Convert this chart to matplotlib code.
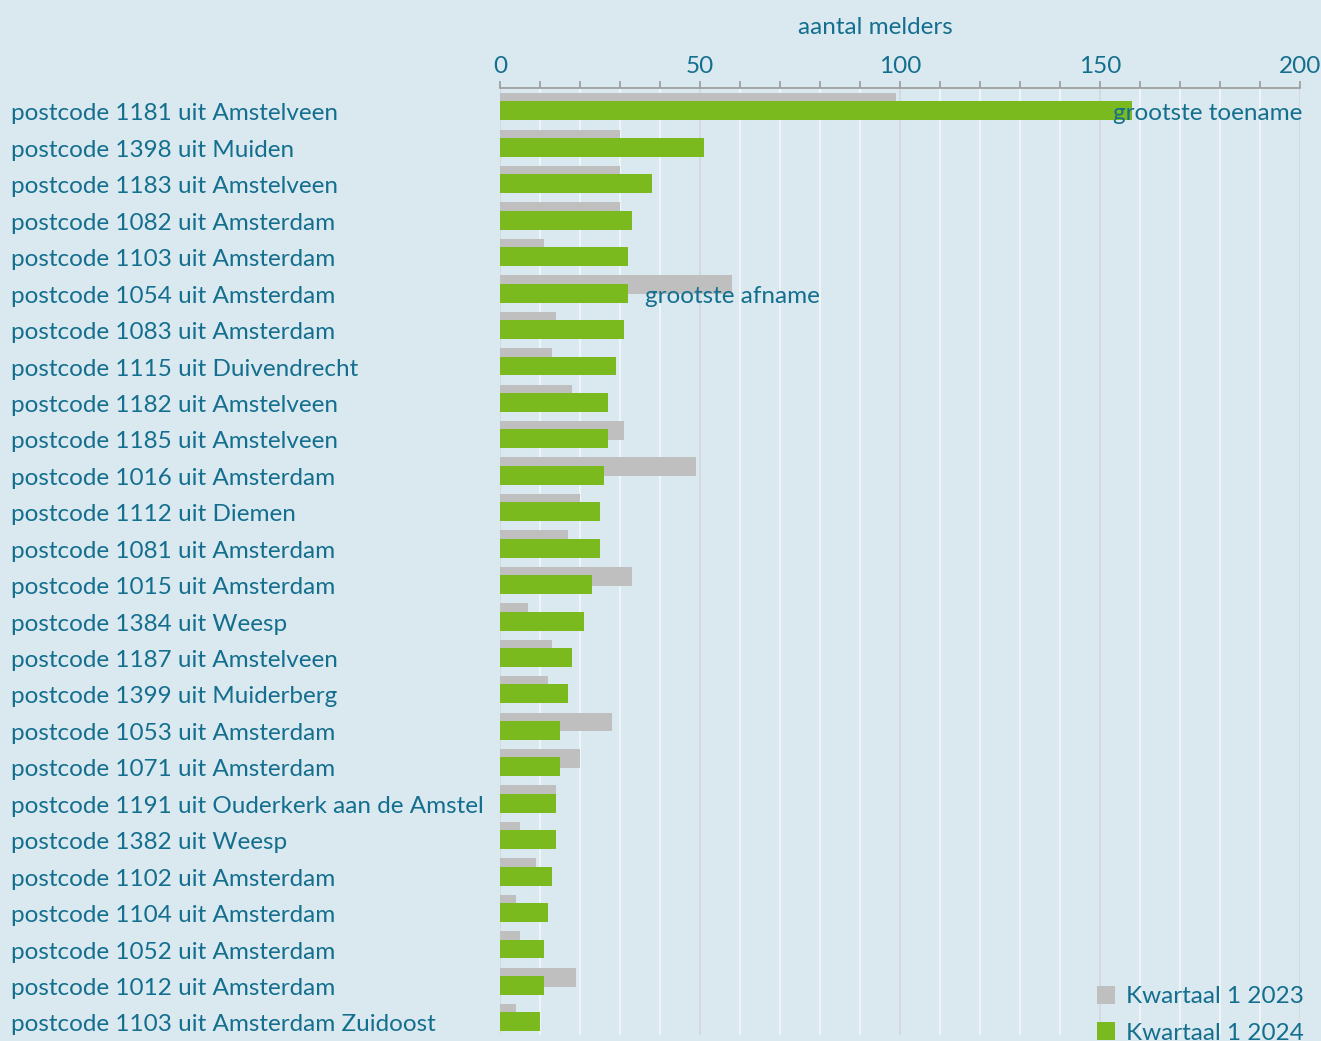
import numpy as np
import matplotlib.pyplot as plt
import matplotlib.transforms as mtransforms
from matplotlib.patches import Patch

labels = ['postcode 1181 uit Amstelveen', 'postcode 1398 uit Muiden', 'postcode 1183 uit Amstelveen',
          'postcode 1082 uit Amsterdam', 'postcode 1103 uit Amsterdam', 'postcode 1054 uit Amsterdam',
          'postcode 1083 uit Amsterdam', 'postcode 1115 uit Duivendrecht', 'postcode 1182 uit Amstelveen',
          'postcode 1185 uit Amstelveen', 'postcode 1016 uit Amsterdam', 'postcode 1112 uit Diemen',
          'postcode 1081 uit Amsterdam', 'postcode 1015 uit Amsterdam', 'postcode 1384 uit Weesp',
          'postcode 1187 uit Amstelveen', 'postcode 1399 uit Muiderberg', 'postcode 1053 uit Amsterdam',
          'postcode 1071 uit Amsterdam', 'postcode 1191 uit Ouderkerk aan de Amstel', 'postcode 1382 uit Weesp',
          'postcode 1102 uit Amsterdam', 'postcode 1104 uit Amsterdam', 'postcode 1052 uit Amsterdam',
          'postcode 1012 uit Amsterdam', 'postcode 1103 uit Amsterdam Zuidoost']
q1_2023 = [99, 30, 30, 30, 11, 58, 14, 13, 18, 31, 49, 20, 17, 33, 7, 13, 12, 28, 20, 14, 5, 9, 4, 5, 19, 4]
q1_2024 = [158, 51, 38, 33, 32, 32, 31, 29, 27, 27, 26, 25, 25, 23, 21, 18, 17, 15, 15, 14, 14, 13, 12, 11, 11, 10]

bg = '#dae8f0'
txt = '#146f8e'
green = '#7aba1e'
grey = '#bfbfbf'
fs = 17.5
plt.rcParams['font.family'] = ['Lato', 'DejaVu Sans']

fig = plt.figure(figsize=(13.21, 10.41), dpi=100, facecolor=bg)
ax = fig.add_axes([500 / 1321, 1 - 1035 / 1041, 800 / 1321, (1035 - 88) / 1041])
ax.set_facecolor(bg)

y = np.arange(len(labels))
h = 0.52
ax.barh(y - 0.23, q1_2023, height=h, color=grey, zorder=2)
ax.barh(y, q1_2024, height=h, color=green, zorder=3)

ax.set_xlim(0, 200)
ax.set_ylim(len(labels) - 1 + 0.36, -0.63)

# gridlines
for v in range(0, 201, 10):
    c = '#d3d8db' if v % 50 == 0 else '#f2f6f8'
    ax.axvline(v, color=c, lw=1.3, zorder=1)

ax.xaxis.tick_top()
ax.set_xticks([0, 50, 100, 150, 200])
ax.set_xticks(range(0, 201, 10), minor=True)
ax.tick_params(axis='x', which='both', direction='out', length=5, color='#9a9a9a', width=1.2,
               labelsize=fs, labelcolor=txt, pad=3)
ax.set_yticks([])
for s in ['right', 'left', 'bottom']:
    ax.spines[s].set_visible(False)
ax.spines['top'].set_color('#9a9a9a')
ax.spines['top'].set_linewidth(1.2)

# labels sit a few pixels lower than the bar centre
tr = mtransforms.blended_transform_factory(fig.transFigure, ax.transData)
tr = tr + mtransforms.ScaledTranslation(0, -3 / 100, fig.dpi_scale_trans)
for i, lab in enumerate(labels):
    ax.text(11 / 1321, i, lab, transform=tr, ha='left', va='center', fontsize=fs, color=txt)

fig.text(875 / 1321, 1 - 27 / 1041, 'aantal melders', ha='center', va='center', fontsize=fs, color=txt)
ax.text(1302 / 1321, 0, 'grootste toename', transform=tr, ha='right', va='center', fontsize=fs,
        color=txt, zorder=5)
ax.text(645 / 1321, 5, 'grootste afname', transform=tr, ha='left', va='center', fontsize=fs,
        color=txt, zorder=5)

handles = [Patch(facecolor=grey), Patch(facecolor=green)]
leg = fig.legend(handles, ['Kwartaal 1 2023', 'Kwartaal 1 2024'], loc='upper right',
                 bbox_to_anchor=(1314 / 1321, 1 - 976 / 1041), frameon=False, fontsize=fs,
                 labelcolor=txt, handlelength=0.75, handleheight=0.75, handletextpad=0.45,
                 labelspacing=0.62, borderaxespad=0)

fig.savefig('out.png', dpi=100, facecolor=bg)
